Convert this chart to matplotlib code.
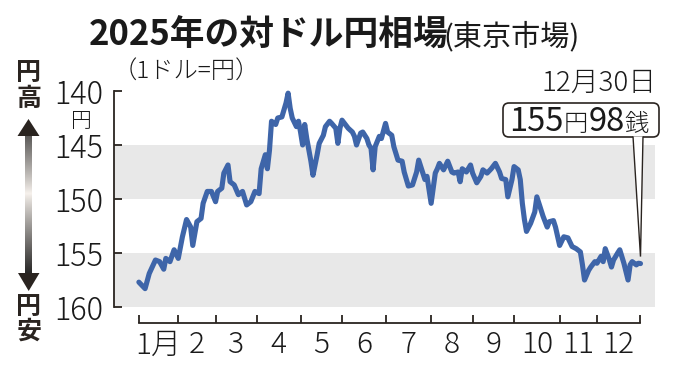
import numpy as np
import matplotlib
matplotlib.use("Agg")
import matplotlib.pyplot as plt
from matplotlib.patches import Polygon, FancyBboxPatch

plt.rcParams['font.family'] = ['Noto Sans CJK JP', 'DejaVu Sans']

# ---- data (trading-day index within 2025, Tokyo market yen per dollar) ----
day_index = [0, 3, 5, 8, 10, 12, 13, 15, 17, 19, 21, 23, 25, 26, 28, 30, 31, 33, 35, 37,
             38, 40, 41, 43, 44, 46, 48, 50, 52, 54, 56, 58, 59, 61, 62, 63, 64, 66, 67,
             69, 71, 72, 73, 74, 76, 77, 78, 79, 80, 81, 83, 84, 86, 87, 89, 90, 92, 93,
             95, 96, 97, 98, 101, 103, 104, 105, 107, 108, 110, 111, 112, 113, 114, 116,
             117, 119, 120, 122, 123, 125, 127, 128, 130, 132, 134, 135, 137, 138, 139,
             141, 143, 144, 145, 147, 149, 151, 152, 154, 155, 156, 158, 160, 161, 163,
             165, 166, 168, 170, 172, 174, 175, 177, 178, 180, 181, 183, 184, 185, 186,
             187, 189, 191, 192, 194, 195, 197, 198, 200, 201, 203, 205, 207, 209, 211,
             213, 214, 215, 217, 218, 220, 221, 223, 224, 225, 227, 228, 229, 231, 232,
             234, 236, 237, 238, 240, 241, 242]
usd_jpy = [157.7, 158.3, 156.9, 155.65, 155.8, 156.5, 155.5, 155.8, 154.7, 155.5, 153.5,
           151.9, 152.6, 154.3, 152.1, 151.8, 150.4, 149.3, 149.3, 150.25, 149.3, 149.0,
           147.6, 146.85, 148.4, 148.7, 149.6, 149.3, 150.55, 150.25, 149.3, 149.5, 147.2,
           145.9, 147.2, 145.5, 142.8, 143.1, 142.5, 142.4, 141.1, 140.2, 141.6, 142.5,
           143.3, 142.8, 143.8, 145.0, 143.1, 144.4, 146.5, 147.8, 145.9, 144.85, 144.1,
           143.3, 142.8, 143.0, 143.45, 144.85, 143.45, 142.7, 143.45, 143.8, 144.2, 145.0,
           143.9, 143.8, 144.4, 145.0, 145.3, 147.3, 145.15, 144.2, 144.4, 143.0, 143.8,
           144.1, 145.15, 146.4, 146.5, 147.5, 148.8, 148.7, 147.5, 146.4, 147.6, 148.2,
           147.9, 150.4, 147.6, 147.2, 146.7, 147.3, 146.5, 147.5, 147.6, 147.5, 148.4,
           147.2, 147.5, 146.85, 147.6, 148.5, 147.9, 147.3, 147.6, 147.2, 146.7, 147.5,
           148.1, 148.2, 149.8, 148.2, 147.0, 147.3, 148.2, 150.4, 151.9, 153.0, 152.25,
           151.2, 149.8, 151.0, 151.6, 152.6, 152.1, 152.0, 152.6, 154.3, 153.5, 153.6,
           154.4, 154.6, 154.9, 156.1, 157.5, 156.6, 156.3, 155.8, 155.95, 155.3, 155.8,
           154.6, 155.65, 156.3, 155.65, 155.0, 154.7, 155.95, 157.5, 156.1, 155.8, 156.1,
           155.95, 155.98]

month_starts = [0, 19, 37, 57, 78, 98, 119, 141, 161, 181, 203, 221]
month_labels = ["1月", "2", "3", "4", "5", "6", "7", "8", "9", "10", "11", "12"]
y_ticks = [140, 145, 150, 155, 160]
band_ranges = [(145, 150), (155, 160)]

title = "2025年の対ドル円相場"
subtitle = "(東京市場)"
unit_note = "（1ドル=円）"
last_date = "12月30日"

DARK = "#2a2420"
BLUE = "#3e65a9"
BAND = "#e8e8e8"
TXT = "#1a1a1a"
W, H = 680, 372

fig = plt.figure(figsize=(W / 100, H / 100), dpi=100)
fig.patch.set_facecolor("white")

ax = fig.add_axes([114 / W, 1 - 307 / H, (655 - 114) / W, (307 - 91) / H])
ax.set_facecolor("none")
ax.set_xlim(-12, 249)
ax.set_ylim(160, 140)
for lo, hi in band_ranges:
    ax.axhspan(lo, hi, color=BAND, lw=0, zorder=0)

ax.plot(day_index, usd_jpy, color=BLUE, lw=3.7, solid_joinstyle="round",
        solid_capstyle="round", clip_on=False, zorder=3)

for s in ("top", "right"):
    ax.spines[s].set_visible(False)
ax.spines["left"].set_color(DARK)
ax.spines["left"].set_linewidth(1.3)
ax.spines["bottom"].set_color(DARK)
ax.spines["bottom"].set_linewidth(1.3)
ax.spines["bottom"].set_position(("outward", 11.5))
end_idx = day_index[-1]
ax.spines["bottom"].set_bounds(0, end_idx)

ax.set_yticks(y_ticks)
ax.set_yticklabels([str(v) for v in y_ticks])
ax.tick_params(axis="y", direction="in", length=6, width=1.3, color=DARK,
               labelsize=22, pad=8, labelcolor=TXT)
for lab in ax.get_yticklabels():
    lab.set_fontweight("light")

bounds = month_starts + [end_idx]
ax.set_xticks(bounds)
ax.set_xticklabels([""] * len(bounds))
centers = [(bounds[i] + bounds[i + 1]) / 2 for i in range(len(month_starts))]
ax.set_xticks(centers, minor=True)
ax.set_xticklabels(month_labels, minor=True)
ax.tick_params(axis="x", which="major", direction="in", length=6, width=1.3, color=DARK)
ax.tick_params(axis="x", which="minor", length=0, labelsize=21.5, pad=5, labelcolor=TXT)
for lab in ax.get_xticklabels(minor=True):
    lab.set_fontweight("light")

# ---- overlay in pixel coordinates ----
ov = fig.add_axes([0, 0, 1, 1])
ov.axis("off")

# gradient arrow shaft (dark at the heads, light in the middle)
n = 200
t = np.linspace(0, 1, n)
g = np.clip(np.abs(t - 0.42) / 0.58, 0, 1) ** 0.9
shade = 0.15 + (0.97 - 0.15) * (1 - g)
img = np.stack([shade, shade * 0.98, shade * 0.96], axis=-1)[:, None, :].repeat(2, axis=1)
ov.imshow(img, extent=(25, 32, 274, 135), aspect="auto",
          interpolation="bilinear", zorder=1)
ov.add_patch(Polygon([(17.5, 136), (39.5, 136), (28.5, 119)], closed=True,
                     facecolor=DARK, edgecolor="none", zorder=2))
ov.add_patch(Polygon([(18, 273), (39.5, 273), (28.7, 291)], closed=True,
                     facecolor=DARK, edgecolor="none", zorder=2))
ov.set_xlim(0, W)
ov.set_ylim(H, 0)

side_kw = dict(fontsize=18, fontweight="bold", color=DARK, ha="center", va="center")
ov.text(29, 73, "円", **side_kw)
ov.text(29, 99, "高", **side_kw)
ov.text(29, 307, "円", **side_kw)
ov.text(29, 332, "安", **side_kw)

ov.text(89, 35, title, fontsize=25, fontweight="bold", color=TXT,
        ha="left", va="center")
ov.text(443, 37, subtitle, fontsize=21, color=TXT, ha="left", va="center")
ov.text(113, 72, unit_note, fontsize=17.5, color=TXT, ha="left", va="center",
        fontweight="light")
ov.text(81, 121, "円", fontsize=15, color=TXT, ha="center", va="center",
        fontweight="light")

ov.text(656, 83, last_date, fontsize=20, color=TXT, ha="right", va="center",
        fontweight="light")

# callout box
box = FancyBboxPatch((503, 103), 156, 34, boxstyle="round,pad=0,rounding_size=6",
                     facecolor="white", edgecolor=DARK, lw=1.2, zorder=4)
ov.add_patch(box)

fig.canvas.draw()
renderer = fig.canvas.get_renderer()
last_val = usd_jpy[-1]
yen = int(last_val)
sen = int(round((last_val - yen) * 100))
pieces = [(str(yen), 23.5, "normal"), ("円", 17.5, "light"),
          (f"{sen:02d}", 23.5, "normal"), ("銭", 17.5, "light")]
x = 509
inv = ov.transData.inverted()
for txt, fs, wt in pieces:
    tt = ov.text(x, 131, txt, fontsize=fs, color=TXT, ha="left", va="baseline",
                 zorder=6, fontweight=wt)
    bb = tt.get_window_extent(renderer)
    x = inv.transform((bb.x1, bb.y0))[0] + 0.3

# tail to the last point
disp = ax.transData.transform((day_index[-1], usd_jpy[-1]))
tip = inv.transform(disp)
tail = Polygon([(633, 136.4), (tip[0], tip[1] - 7), (643, 136.4)], closed=False,
               facecolor="white", edgecolor=DARK, lw=1.0, zorder=5)
ov.add_patch(tail)

fig.savefig("out.png", dpi=100, facecolor="white")
